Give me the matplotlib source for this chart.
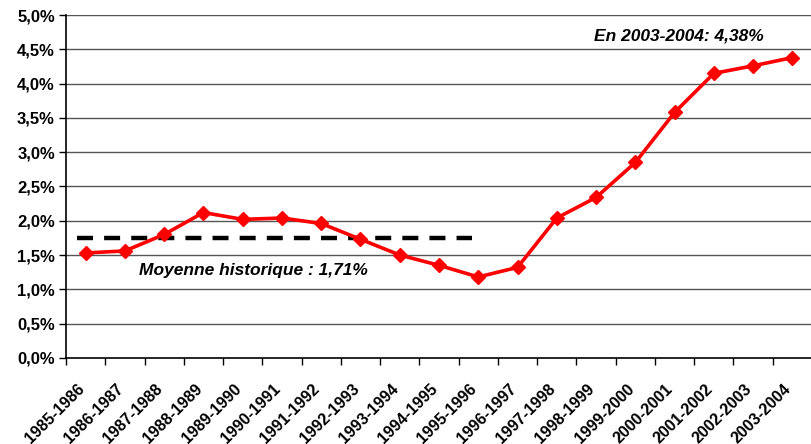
import matplotlib.pyplot as plt
import matplotlib.transforms as mtransforms
import numpy as np

plt.rcParams['font.family'] = ['Liberation Sans', 'DejaVu Sans']

periods = ['1985-1986', '1986-1987', '1987-1988', '1988-1989', '1989-1990',
           '1990-1991', '1991-1992', '1992-1993', '1993-1994', '1994-1995',
           '1995-1996', '1996-1997', '1997-1998', '1998-1999', '1999-2000',
           '2000-2001', '2001-2002', '2002-2003', '2003-2004']
rates = [1.53, 1.56, 1.80, 2.12, 2.02, 2.04, 1.96, 1.73, 1.50, 1.35,
         1.18, 1.32, 2.04, 2.34, 2.85, 3.58, 4.15, 4.26, 4.38]
mean_level = 1.75
mean_label = 'Moyenne historique : 1,71%'
last_label = 'En 2003-2004: 4,38%'
y_ticks = [0, 0.5, 1.0, 1.5, 2.0, 2.5, 3.0, 3.5, 4.0, 4.5, 5.0]

fig = plt.figure(figsize=(8.12, 4.44), dpi=100)
ax = fig.add_axes([0.0813, 0.194, 0.9187, 0.772])

x = np.arange(len(periods))
for yv in y_ticks[1:]:
    ax.axhline(yv, color='#555555', lw=1.0, zorder=1)

ax.plot([-0.22, 9.83], [mean_level, mean_level], color='black', lw=3.2,
        dashes=(3.6, 2.5), zorder=2)
ax.plot(x, rates, color='#ff0000', lw=2.6, marker='D', markersize=7.5,
        zorder=3, clip_on=False)

ax.text(4.28, 1.28, mean_label, fontsize=12.5, fontweight='bold',
        fontstyle='italic', ha='center', va='center')
ax.text(15.1, 4.70, last_label, fontsize=12.5, fontweight='bold',
        fontstyle='italic', ha='center', va='center')

ax.set_xlim(-0.5, 18.15)
ax.set_ylim(0, 5.0)
ax.set_yticks(y_ticks)
ax.set_yticklabels([('%.1f%%' % v).replace('.', ',') for v in y_ticks],
                   fontsize=12, fontweight='bold')
ax.set_xticks(x)
ax.set_xticklabels(periods, rotation=45, ha='right', rotation_mode='anchor',
                   fontsize=11.5, fontweight='bold')
ax.set_xticks(np.arange(-0.5, 19, 1), minor=True)
ax.tick_params(axis='x', which='major', length=0, pad=17)
ax.tick_params(axis='x', which='minor', length=5, width=1, direction='out')
ax.tick_params(axis='y', length=5, width=1, direction='out', pad=3)

# nudge the slanted labels a bit to the left, like the original
shift = mtransforms.ScaledTranslation(-9 / 100, 0, fig.dpi_scale_trans)
for lab in ax.get_xticklabels():
    lab.set_transform(lab.get_transform() + shift)

ax.spines['top'].set_visible(False)
ax.spines['right'].set_visible(False)
ax.spines['left'].set_linewidth(1.2)
ax.spines['bottom'].set_linewidth(1.2)

fig.savefig('out.png', dpi=100)
